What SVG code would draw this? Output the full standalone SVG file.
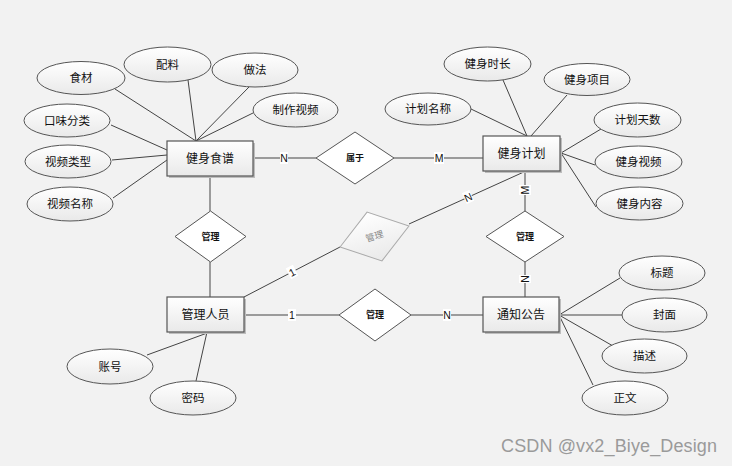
<svg xmlns="http://www.w3.org/2000/svg" width="732" height="466" viewBox="0 0 732 466">
<defs>
<linearGradient id="g" x1="0" y1="0" x2="0" y2="1">
<stop offset="0" stop-color="#ffffff"/>
<stop offset="1" stop-color="#e9e9e9"/>
</linearGradient>
<style>
text{font-family:"Liberation Sans","Noto Sans CJK SC",sans-serif;text-anchor:middle;dominant-baseline:central;fill:#111}
.ent rect.s{fill:#bdbdbd;stroke:none}
.ent rect.b{fill:url(#g);stroke:#555;stroke-width:1.2}
.ent text{font-size:12px}
.att ellipse{fill:url(#g);stroke:#555;stroke-width:1}
.att text{font-size:11.5px}
.rel polygon{fill:#fff;stroke:#555;stroke-width:1}
.rel text{font-size:9px;font-weight:bold}
.gray polygon{fill:url(#g);stroke:#aaa}
.gray text{fill:#888;font-weight:normal}
#connectors line{stroke:#444;stroke-width:1}
.lbl rect{fill:#fff}
.lbl text{font-size:10.5px}
</style>
</defs>
<rect width="732" height="466" fill="#f2f2f2"/>
<g id="connectors">
<line x1="115" y1="89" x2="196" y2="141"/>
<line x1="188" y1="80" x2="196" y2="141"/>
<line x1="249" y1="87" x2="196" y2="141"/>
<line x1="253" y1="113" x2="196" y2="141"/>
<line x1="111" y1="125" x2="167" y2="150"/>
<line x1="112" y1="160" x2="167" y2="155"/>
<line x1="113" y1="198" x2="167" y2="160"/>
<line x1="253" y1="158" x2="316" y2="158"/>
<line x1="394" y1="158" x2="483" y2="158"/>
<line x1="503" y1="80" x2="527" y2="136"/>
<line x1="567" y1="95" x2="531" y2="136"/>
<line x1="471" y1="109" x2="527" y2="136"/>
<line x1="601" y1="129" x2="561" y2="153"/>
<line x1="595" y1="165" x2="561" y2="153"/>
<line x1="596" y1="207" x2="561" y2="153"/>
<line x1="525" y1="171" x2="525" y2="211"/>
<line x1="525" y1="262" x2="525" y2="297"/>
<line x1="210" y1="176" x2="210" y2="211"/>
<line x1="210" y1="262" x2="210" y2="297"/>
<line x1="244" y1="315" x2="339" y2="315"/>
<line x1="411" y1="315" x2="483" y2="315"/>
<line x1="244" y1="297" x2="340" y2="247"/>
<line x1="409" y1="224" x2="526" y2="171"/>
<line x1="559" y1="315" x2="620" y2="278"/>
<line x1="559" y1="315" x2="622" y2="315"/>
<line x1="559" y1="315" x2="613" y2="346"/>
<line x1="559" y1="315" x2="593" y2="385"/>
<line x1="147" y1="355" x2="210" y2="332"/>
<line x1="196" y1="381" x2="207" y2="332"/>
<g class="lbl">
<rect x="280" y="152" width="8" height="12"/><text x="284" y="158">N</text>
<rect x="434" y="152" width="10" height="12"/><text x="439" y="158">M</text>
<rect x="288" y="309" width="8" height="12"/><text x="292" y="315">1</text>
<rect x="443" y="309" width="8" height="12"/><text x="447" y="315">N</text>
<g transform="translate(292,272) rotate(-27)"><rect x="-4" y="-6" width="8" height="12"/><text x="0" y="0">1</text></g>
<g transform="translate(468,197) rotate(-24)"><rect x="-4" y="-6" width="8" height="12"/><text x="0" y="0">N</text></g>
<g transform="translate(525,190) rotate(-90)"><rect x="-5" y="-6" width="10" height="12"/><text x="0" y="0">M</text></g>
<g transform="translate(525,279) rotate(-90)"><rect x="-4" y="-6" width="8" height="12"/><text x="0" y="0">N</text></g>
</g>
</g>
<g id="e-recipe" class="ent"><rect class="s" x="169" y="143" width="86" height="35"/><rect class="b" x="167" y="141" width="86" height="35"/><text x="210" y="158.5">健身食谱</text></g>
<g id="e-plan" class="ent"><rect class="s" x="485" y="138" width="77" height="35"/><rect class="b" x="483" y="136" width="77" height="35"/><text x="521.5" y="153.5">健身计划</text></g>
<g id="e-admin" class="ent"><rect class="s" x="169" y="299" width="77" height="35"/><rect class="b" x="167" y="297" width="77" height="35"/><text x="205.5" y="314.5">管理人员</text></g>
<g id="e-notice" class="ent"><rect class="s" x="485" y="299" width="76" height="35"/><rect class="b" x="483" y="297" width="76" height="35"/><text x="521" y="314.5">通知公告</text></g>
<g id="a-shicai" class="att"><ellipse cx="81" cy="78" rx="44" ry="16.5"/><text x="81" y="78">食材</text></g>
<g id="a-peiliao" class="att"><ellipse cx="167.5" cy="64.5" rx="43.5" ry="17.5"/><text x="167.5" y="64.5">配料</text></g>
<g id="a-zuofa" class="att"><ellipse cx="255" cy="70" rx="43" ry="17"/><text x="255" y="70">做法</text></g>
<g id="a-zhizuo" class="att"><ellipse cx="295.5" cy="110" rx="42.5" ry="17"/><text x="295.5" y="110">制作视频</text></g>
<g id="a-kouwei" class="att"><ellipse cx="67" cy="120.5" rx="43" ry="16.5"/><text x="67" y="120.5">口味分类</text></g>
<g id="a-leixing" class="att"><ellipse cx="68" cy="161.5" rx="43" ry="16.5"/><text x="68" y="161.5">视频类型</text></g>
<g id="a-mingcheng" class="att"><ellipse cx="70" cy="204" rx="43" ry="17"/><text x="70" y="204">视频名称</text></g>
<g id="a-shichang" class="att"><ellipse cx="487.5" cy="64" rx="43.5" ry="17"/><text x="487.5" y="64">健身时长</text></g>
<g id="a-xiangmu" class="att"><ellipse cx="587" cy="79.5" rx="43" ry="16"/><text x="587" y="79.5">健身项目</text></g>
<g id="a-jihuaming" class="att"><ellipse cx="428" cy="109" rx="43" ry="16"/><text x="428" y="109">计划名称</text></g>
<g id="a-tianshu" class="att"><ellipse cx="637.5" cy="120" rx="43.5" ry="17"/><text x="637.5" y="120">计划天数</text></g>
<g id="a-shipin" class="att"><ellipse cx="638.5" cy="162" rx="43.5" ry="16"/><text x="638.5" y="162">健身视频</text></g>
<g id="a-neirong" class="att"><ellipse cx="639.5" cy="203.5" rx="43.5" ry="16.5"/><text x="639.5" y="203.5">健身内容</text></g>
<g id="a-biaoti" class="att"><ellipse cx="662" cy="273" rx="43" ry="17"/><text x="662" y="273">标题</text></g>
<g id="a-fengmian" class="att"><ellipse cx="664.5" cy="315" rx="42.5" ry="17"/><text x="664.5" y="315">封面</text></g>
<g id="a-miaoshu" class="att"><ellipse cx="644.5" cy="356" rx="42.5" ry="17"/><text x="644.5" y="356">描述</text></g>
<g id="a-zhengwen" class="att"><ellipse cx="625" cy="398" rx="43" ry="17"/><text x="625" y="398">正文</text></g>
<g id="a-zhanghao" class="att"><ellipse cx="110" cy="366.5" rx="43" ry="17.5"/><text x="110" y="366.5">账号</text></g>
<g id="a-mima" class="att"><ellipse cx="193" cy="398" rx="43" ry="17"/><text x="193" y="398">密码</text></g>
<g id="r-shuyu" class="rel"><polygon points="316,158 355,132 394,158 355,184"/><text x="355" y="158">属于</text></g>
<g id="r-guanli1" class="rel"><polygon points="175,236.5 210.5,211 246,236.5 210.5,262"/><text x="210.5" y="236.5">管理</text></g>
<g id="r-guanli2" class="rel"><polygon points="339,315 375,289 411,315 375,341"/><text x="375" y="315">管理</text></g>
<g id="r-guanli3" class="rel"><polygon points="486,236.5 525,211 564,236.5 525,262"/><text x="525" y="236.5">管理</text></g>
<g id="r-guanli4" class="rel gray" transform="translate(374.5,236.5) rotate(-17)"><polygon points="-36,0 0,-25.5 36,0 0,25.5"/><text x="0" y="0">管理</text></g>
<text x="609" y="446" style="font-size:18px;fill:#9a9a9a" textLength="216">CSDN @vx2_Biye_Design</text>
</svg>
